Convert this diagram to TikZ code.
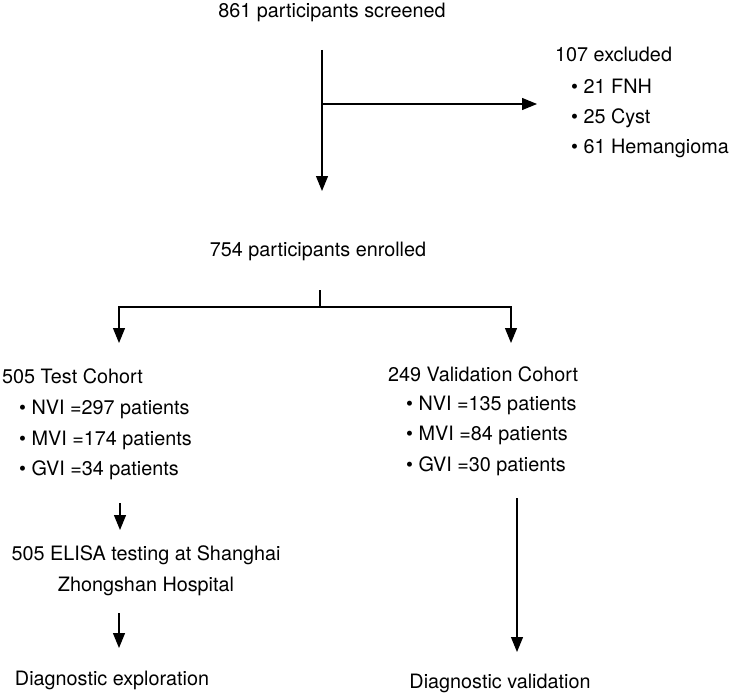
\documentclass[tikz,border=0pt]{standalone}
\usepackage{fontspec}
\setmainfont{TeX Gyre Heros}
\usetikzlibrary{arrows.meta}
\begin{document}
\begin{tikzpicture}[x=1pt,y=-1pt,
  txt/.style={inner sep=0pt,text height=0.72em,text depth=0pt,font=\fontsize{19.8}{24}\selectfont},
  conn/.style={line width=1.2pt,-{Triangle[width=12pt,length=15pt]}},
  plain/.style={line width=1.2pt}]
\useasboundingbox (0,0) rectangle (730,698);
% texts
\node[txt] (screened) at (332,14) {861 participants screened};
\node[txt,anchor=west] (excl) at (555,58) {107 excluded};
\node[txt,anchor=west] (e1) at (571,90) {• 21 FNH};
\node[txt,anchor=west] (e2) at (571,120) {• 25 Cyst};
\node[txt,anchor=west] (e3) at (571,150) {• 61 Hemangioma};
\node[txt] (enrolled) at (318,253) {754 participants enrolled};
\node[txt,anchor=west] (test) at (2,380) {505 Test Cohort};
\node[txt,anchor=west] (t1) at (19,411) {• NVI =297 patients};
\node[txt,anchor=west] (t2) at (19,442) {• MVI =174 patients};
\node[txt,anchor=west] (t3) at (19,472) {• GVI =34 patients};
\node[txt,anchor=west] (val) at (388,378) {249 Validation Cohort};
\node[txt,anchor=west] (v1) at (406,407) {• NVI =135 patients};
\node[txt,anchor=west] (v2) at (406,437) {• MVI =84 patients};
\node[txt,anchor=west] (v3) at (406,468) {• GVI =30 patients};
\node[txt] (elisa1) at (146,557) {505 ELISA testing at Shanghai};
\node[txt] (elisa2) at (146,588) {Zhongshan Hospital};
\node[txt] (explo) at (112,682) {Diagnostic exploration};
\node[txt] (valid) at (500,685) {Diagnostic validation};
% connector points
\coordinate (a0) at (322,50);
\coordinate (a1) at (322,104);
\coordinate (a2) at (322,191);
\coordinate (ex) at (537,104);
\coordinate (b0) at (320,290);
\coordinate (b1) at (320,307);
\coordinate (bl) at (119,307);
\coordinate (br) at (511,307);
\coordinate (blt) at (119,343);
\coordinate (brt) at (511,343);
\coordinate (c0) at (120,503);
\coordinate (c1) at (120,530);
\coordinate (d0) at (119,613);
\coordinate (d1) at (119,648);
\coordinate (f0) at (517,498);
\coordinate (f1) at (517,652);
% connectors
\draw[conn] (a0) -- (a2);
\draw[conn] (a1) -- (ex);
\draw[plain] (b0) -- (b1);
\draw[conn] (b1) -- (bl) -- (blt);
\draw[conn] (b1) -- (br) -- (brt);
\draw[conn] (c0) -- (c1);
\draw[conn] (d0) -- (d1);
\draw[conn] (f0) -- (f1);
\end{tikzpicture}
\end{document}
